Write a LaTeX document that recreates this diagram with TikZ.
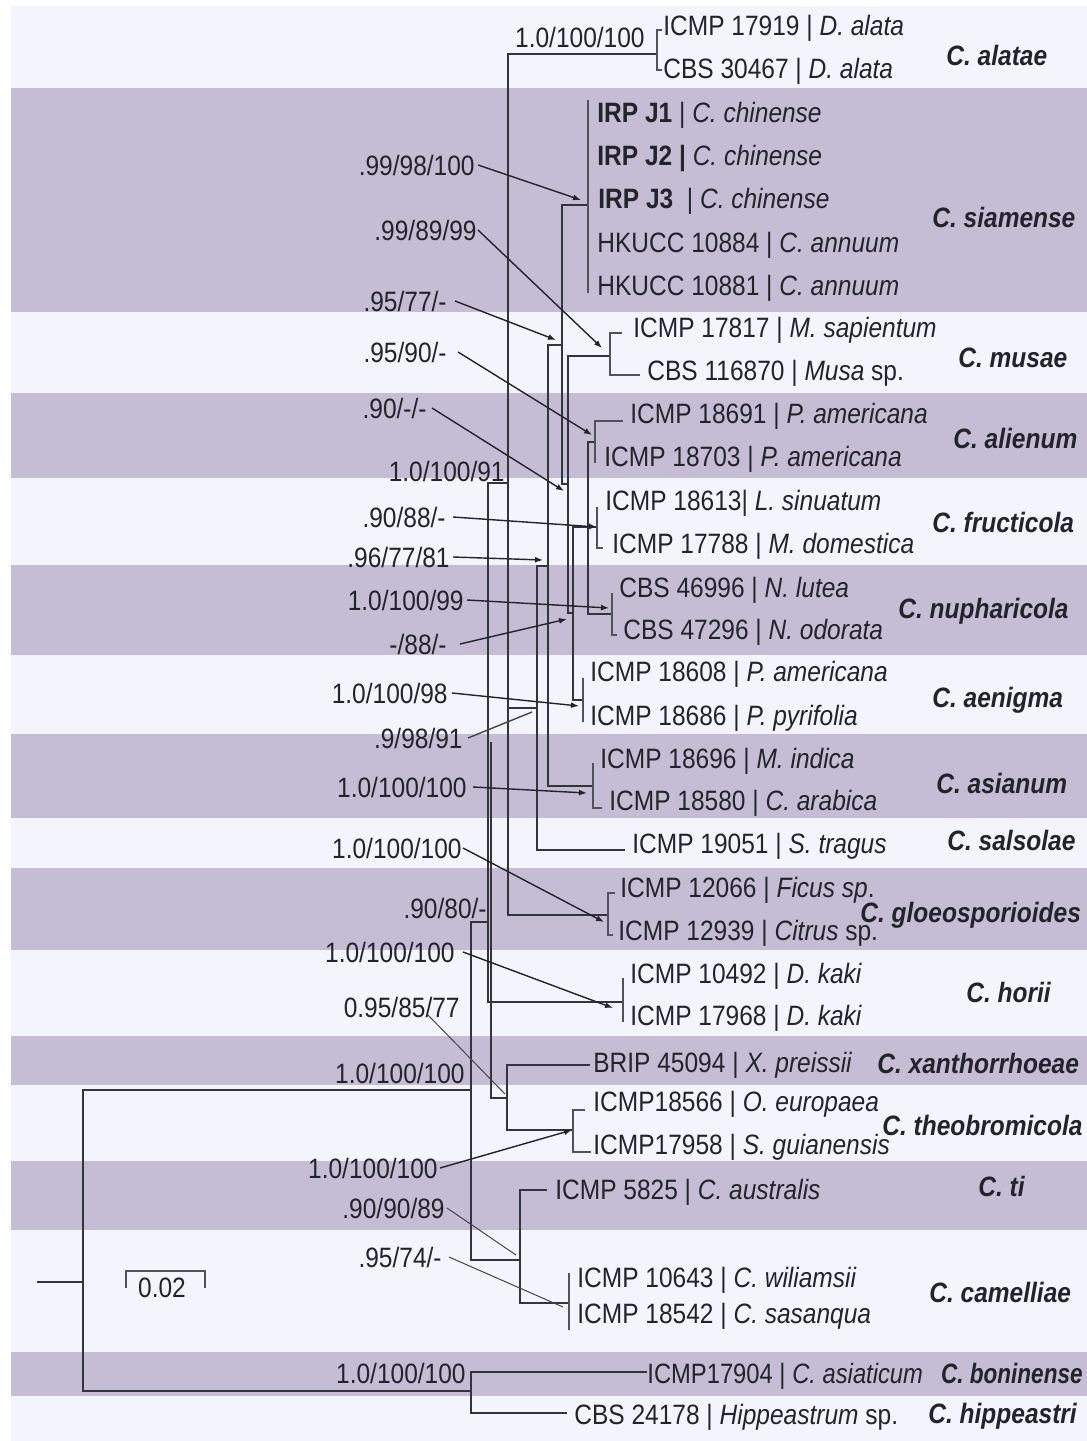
\documentclass[tikz,border=0pt]{standalone}
\usepackage{fontspec}
\setmainfont{Liberation Sans}[FakeStretch=0.875]
\usetikzlibrary{arrows.meta}
\definecolor{bandD}{HTML}{C5BDD3}
\definecolor{bandL}{HTML}{F4F4FC}
\definecolor{ink}{HTML}{23232D}
\definecolor{brc}{HTML}{34343F}
\begin{document}
\begin{tikzpicture}[x=0.5pt,y=-0.5pt,
  lf/.style={anchor=base west,inner sep=0pt,text=ink,font=\fontsize{14}{16}\selectfont},
  spn/.style={anchor=base west,inner sep=0pt,text=ink,font=\fontsize{14}{16}\selectfont\bfseries\itshape},
  supl/.style={anchor=base east,inner sep=0pt,text=ink,font=\fontsize{14}{16}\selectfont},
  brl/.style={draw=brc,line width=1pt},
  tip/.style={draw=brc!85,line width=0.8pt},
  ptr/.style={draw=ink,line width=0.7pt,-{Latex[length=4pt,width=3pt]}},
  ptrn/.style={draw=ink!85,line width=0.5pt},
]
\useasboundingbox (0,0) rectangle (1087,1441);
% background and bands
\fill[white] (0,0) rectangle (1087,1441);
\fill[bandL] (11,6) rectangle (1087,1441);
\foreach \a/\b in {88/312,393/478,565/655,734/818,868/950,1036/1085,1161/1230,1352/1396}
  \fill[bandD] (11,\a) rectangle (1087,\b);

% ---------- tree branches ----------
\draw[brl] (37,1282) -- (83,1282);
\draw[brl] (471,1090) -- (83,1090) -- (83,1391) -- (471,1391);
\draw[brl] (647,1372) -- (471,1372) -- (471,1413) -- (567,1413);
\draw[brl] (489,922) -- (471,922) -- (471,1260) -- (520,1260);
\draw[brl] (547,1190) -- (520,1190) -- (520,1303) -- (569,1303);
\draw[tip] (569,1273) -- (569,1330);
\draw[brl] (491,742) -- (491,1098) -- (507,1098);
\draw[brl] (590,1065) -- (507,1065) -- (507,1130) -- (573,1130);
\draw[tip] (585,1110) -- (573,1110) -- (573,1152) -- (591,1152);
\draw[brl] (508,483) -- (488,483) -- (488,1002) -- (623,1002);
\draw[tip] (623,978) -- (623,1022);
\draw[brl] (657,54) -- (508,54) -- (508,915) -- (608,915);
\draw[brl] (508,708) -- (537,708);
\draw[tip] (615,893) -- (608,893) -- (608,935) -- (613,935);
\draw[tip] (662,30) -- (657,30) -- (657,70) -- (662,70);
\draw[brl] (548,566) -- (537,566) -- (537,850) -- (625,850);
\draw[brl] (562,345) -- (548,345) -- (548,786) -- (593,786);
\draw[tip] (593,763) -- (593,808) -- (602,808);
\draw[brl] (588,205) -- (562,205) -- (562,484) -- (568,484);
\draw[tip] (588,100) -- (588,293);
\draw[brl] (610,356) -- (568,356) -- (568,613) -- (573,613);
\draw[tip] (622,333) -- (610,333) -- (610,375) -- (640,375);
\draw[brl] (597,527) -- (573,527) -- (573,700) -- (583,700);
\draw[tip] (583,678) -- (583,722);
\draw[brl] (595,442) -- (588,442) -- (588,614) -- (612,614);
\draw[tip] (623,421) -- (595,421) -- (595,463);
\draw[tip] (597,507) -- (597,548) -- (603,548);
\draw[tip] (612,593) -- (612,635) -- (617,635);

% scale bar
\draw[tip] (126,1288) -- (126,1271) -- (205,1271) -- (205,1288);
\node[anchor=base,inner sep=0pt,text=ink,font=\fontsize{14}{16}\selectfont] (scale) at (162,1297) {0.02};

% ---------- leaves ----------
\node[lf] (l1)  at (663,35)   {ICMP 17919 | \textit{D. alata}};
\node[lf] (l2)  at (663,78)   {CBS 30467 | \textit{D. alata}};
\node[lf] (l3)  at (597,122)  {\textbf{IRP J1} | \textit{C. chinense}};
\node[lf] (l4)  at (597,165)  {\textbf{IRP J2 |} \textit{C. chinense}};
\node[lf] (l5)  at (598,208)  {\textbf{IRP J3}\ \ | \textit{C. chinense}};
\node[lf] (l6)  at (597,252)  {HKUCC 10884 | \textit{C. annuum}};
\node[lf] (l7)  at (597,295)  {HKUCC 10881 | \textit{C. annuum}};
\node[lf] (l8)  at (633,337)  {ICMP 17817 | \textit{M. sapientum}};
\node[lf] (l9)  at (647,380)  {CBS 116870 | \textit{Musa} sp.};
\node[lf] (l10) at (630,423)  {ICMP 18691 | \textit{P. americana}};
\node[lf] (l11) at (604,466)  {ICMP 18703 | \textit{P. americana}};
\node[lf] (l12) at (605,510)  {ICMP 18613| \textit{L. sinuatum}};
\node[lf] (l13) at (612,553)  {ICMP 17788 | \textit{M. domestica}};
\node[lf] (l14) at (619,597)  {CBS 46996 | \textit{N. lutea}};
\node[lf] (l15) at (623,639)  {CBS 47296 | \textit{N. odorata}};
\node[lf] (l16) at (590,681)  {ICMP 18608 | \textit{P. americana}};
\node[lf] (l17) at (590,725)  {ICMP 18686 | \textit{P. pyrifolia}};
\node[lf] (l18) at (600,768)  {ICMP 18696 | \textit{M. indica}};
\node[lf] (l19) at (609,810)  {ICMP 18580 | \textit{C. arabica}};
\node[lf] (l20) at (632,853)  {ICMP 19051 | \textit{S. tragus}};
\node[lf] (l21) at (620,897)  {ICMP 12066 | \textit{Ficus sp}.};
\node[lf] (l22) at (618,940)  {ICMP 12939 | \textit{Citrus} sp.};
\node[lf] (l23) at (630,983)  {ICMP 10492 | \textit{D. kaki}};
\node[lf] (l24) at (630,1025) {ICMP 17968 | \textit{D. kaki}};
\node[lf] (l25) at (593,1072) {BRIP 45094 | \textit{X. preissii}};
\node[lf] (l26) at (593,1111) {ICMP18566 | \textit{O. europaea}};
\node[lf] (l27) at (593,1154) {ICMP17958 | \textit{S. guianensis}};
\node[lf] (l28) at (555,1199) {ICMP 5825 | \textit{C. australis}};
\node[lf] (l29) at (577,1287) {ICMP 10643 | \textit{C. wiliamsii}};
\node[lf] (l30) at (577,1323) {ICMP 18542 | \textit{C. sasanqua}};
\node[lf] (l31) at (647,1383) {\scalebox{0.97}[1]{ICMP17904 | \textit{C. asiaticum}}};
\node[lf] (l32) at (574,1424) {CBS 24178 | \textit{Hippeastrum} sp.};

% ---------- species ----------
\node[spn] (c1)  at (946,65)   {C. alatae};
\node[spn] (c2)  at (932,227)  {C. siamense};
\node[spn] (c3)  at (958,367)  {C. musae};
\node[spn] (c4)  at (953,448)  {C. alienum};
\node[spn] (c5)  at (932,532)  {C. fructicola};
\node[spn] (c6)  at (898,618)  {C. nupharicola};
\node[spn] (c7)  at (932,707)  {C. aenigma};
\node[spn] (c8)  at (936,793)  {C. asianum};
\node[spn] (c9)  at (947,850)  {C. salsolae};
\node[spn] (c10) at (860,922)  {C. gloeosporioides};
\node[spn] (c11) at (966,1002) {C. horii};
\node[spn] (c12) at (877,1073) {C. xanthorrhoeae};
\node[spn] (c13) at (882,1135) {C. theobromicola};
\node[spn] (c14) at (978,1196) {C. ti};
\node[spn] (c15) at (929,1302) {C. camelliae};
\node[spn,anchor=base east] (c16) at (1083,1383) {\scalebox{0.92}[1]{C. boninense}};
\node[spn] (c17) at (928,1423) {C. hippeastri};

% ---------- support values ----------
\node[supl] (s1)  at (645,47)   {1.0/100/100};
\node[supl] (s2)  at (475,175)  {.99/98/100};
\node[supl] (s3)  at (477,240)  {.99/89/99};
\node[supl] (s4)  at (447,311)  {.95/77/-};
\node[supl] (s5)  at (447,362)  {.95/90/-};
\node[supl] (s6)  at (427,418)  {.90/-/-};
\node[supl] (s7)  at (505,481)  {1.0/100/91};
\node[supl] (s8)  at (446,527)  {.90/88/-};
\node[supl] (s9)  at (450,567)  {.96/77/81};
\node[supl] (s10) at (464,610)  {1.0/100/99};
\node[supl] (s11) at (447,654)  {-/88/-};
\node[supl] (s12) at (448,703)  {1.0/100/98};
\node[supl] (s13) at (463,748)  {.9/98/91};
\node[supl] (s14) at (467,797)  {1.0/100/100};
\node[supl] (s15) at (462,858)  {1.0/100/100};
\node[supl] (s16) at (487,918)  {.90/80/-};
\node[supl] (s17) at (455,962)  {1.0/100/100};
\node[supl] (s18) at (460,1017) {0.95/85/77};
\node[supl] (s19) at (465,1083) {1.0/100/100};
\node[supl] (s20) at (438,1178) {1.0/100/100};
\node[supl] (s21) at (445,1218) {.90/90/89};
\node[supl] (s22) at (442,1267) {.95/74/-};
\node[supl] (s23) at (466,1383) {1.0/100/100};

% pointer targets
\coordinate (t2) at (581,200);
\coordinate (t3) at (602,348);
\coordinate (t4) at (556,340);
\coordinate (t5) at (592,435);
\coordinate (t6) at (564,491);
\coordinate (t8) at (597,527);
\coordinate (t9) at (543,560);
\coordinate (t10) at (609,608);
\coordinate (t11) at (567,619);
\coordinate (t12) at (579,706);
\coordinate (t13) at (532,712);
\coordinate (t14) at (587,793);
\coordinate (t15) at (604,922);
\coordinate (t17) at (613,1008);
\coordinate (f18) at (428,1015);
\coordinate (t18) at (505,1094);
\coordinate (t20) at (572,1130);
\coordinate (t21) at (516,1255);
\coordinate (t22) at (563,1307);

\draw[ptr] ([xshift=1.5pt]s2.east) -- (t2);
\draw[ptr] ([xshift=0.5pt]s3.east) -- (t3);
\draw[ptr] ([xshift=4pt]s4.east) -- (t4);
\draw[ptr] ([xshift=5.5pt]s5.east) -- (t5);
\draw[ptr] ([xshift=2.5pt]s6.east) -- (t6);
\draw[ptr] ([xshift=3.5pt]s8.east) -- (t8);
\draw[ptr] ([xshift=1.5pt]s9.east) -- (t9);
\draw[ptr] ([xshift=1.5pt]s10.east) -- (t10);
\draw[ptr] ([xshift=6.5pt]s11.east) -- (t11);
\draw[ptr] ([xshift=2pt]s12.east) -- (t12);
\draw[ptrn,line width=0.7pt] ([xshift=2.5pt]s13.east) -- (t13);
\draw[ptr] ([xshift=3pt]s14.east) -- (t14);
\draw[ptr] ([xshift=0.5pt]s15.east) -- (t15);
\draw[ptr] ([xshift=4pt]s17.east) -- (t17);
\draw[ptrn] (f18) -- (t18);
\draw[ptr] ([xshift=1pt]s20.east) -- (t20);
\draw[ptrn] ([xshift=1pt]s21.east) -- (t21);
\draw[ptrn] ([xshift=3.5pt]s22.east) -- (t22);
\end{tikzpicture}
\end{document}
